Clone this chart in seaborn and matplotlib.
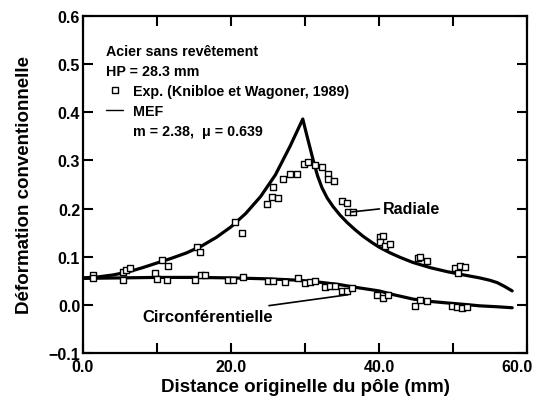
import numpy as np
import pandas as pd
import matplotlib
matplotlib.use("Agg")
import matplotlib.pyplot as plt
from matplotlib.lines import Line2D
from matplotlib.ticker import MultipleLocator
from matplotlib.transforms import ScaledTranslation
import seaborn as sb

# FEM curves (MEF)
rad_x = [0, 2, 4, 6, 8, 10, 12, 14, 16, 18, 20, 22, 24, 26, 28, 29.7, 30.2, 30.7, 31.2,
         31.7, 32.3, 33.0, 33.8, 34.7, 35.7, 36.7, 37.8, 39, 40, 41.5, 42.8, 44.6, 47, 49.2,
         51.5, 53.6, 55, 56, 57, 58]
rad_y = [0.056, 0.058, 0.062, 0.068, 0.077, 0.087, 0.097, 0.108, 0.122, 0.140, 0.162, 0.190,
         0.225, 0.270, 0.330, 0.386, 0.355, 0.325, 0.295, 0.268, 0.243, 0.222, 0.204, 0.187,
         0.171, 0.157, 0.143, 0.130, 0.120, 0.108, 0.099, 0.088, 0.077, 0.069, 0.062, 0.056,
         0.051, 0.046, 0.038, 0.029]
circ_x = [0, 5, 10, 15, 20, 25, 28, 30, 32, 34.7, 37, 40, 42, 44.6, 47, 49.2, 51.5, 53.6, 56, 58]
circ_y = [0.055, 0.056, 0.057, 0.057, 0.056, 0.054, 0.052, 0.050, 0.047, 0.042, 0.036, 0.029,
          0.021, 0.012, 0.007, 0.004, 0.001, -0.002, -0.004, -0.006]

# experiments (Knibloe et Wagoner, 1989)
exp_rad_x = [1.4, 5.4, 5.8, 6.3, 10.7, 11.5, 15.4, 15.8, 20.5, 21.5, 24.8, 25.5, 26.4, 25.7,
             27, 28, 28.9, 29.8, 30.4, 31.4, 32.3, 33.1, 33.1, 33.9, 35.0, 35.7, 35.8, 36.5,
             40.1, 40.5, 40.1, 40.8, 41.5, 45.3, 45.6, 46.5, 50.3, 51.0, 51.6, 50.7]
exp_rad_y = [0.062, 0.069, 0.072, 0.077, 0.094, 0.081, 0.120, 0.110, 0.173, 0.150, 0.210,
             0.225, 0.222, 0.245, 0.262, 0.272, 0.272, 0.293, 0.297, 0.291, 0.287, 0.272,
             0.262, 0.258, 0.216, 0.212, 0.193, 0.193, 0.141, 0.143, 0.131, 0.123, 0.127,
             0.098, 0.100, 0.092, 0.077, 0.081, 0.079, 0.067]
exp_circ_x = [1.4, 5.4, 9.7, 10, 11.3, 15.1, 16, 16.5, 19.6, 20.3, 21.6, 25, 25.7, 27.3, 29,
              30, 30.7, 31.4, 32.7, 33.4, 34.1, 35, 35.7, 36.4, 39.7, 40.5, 41.2, 44.9, 45.5,
              46.5, 49.9, 50.5, 51.2, 51.9]
exp_circ_y = [0.056, 0.052, 0.066, 0.054, 0.052, 0.052, 0.062, 0.062, 0.052, 0.052, 0.058,
              0.050, 0.050, 0.048, 0.056, 0.046, 0.048, 0.050, 0.037, 0.040, 0.040, 0.029,
              0.029, 0.035, 0.020, 0.015, 0.020, -0.002, 0.010, 0.008, -0.002, -0.004,
              -0.006, -0.004]

sb.set_style("ticks")
plt.rcParams['font.family'] = ['Liberation Sans', 'DejaVu Sans']
plt.rcParams['font.weight'] = 'bold'
for key in ['text.color', 'axes.labelcolor', 'xtick.color', 'ytick.color', 'axes.edgecolor']:
    plt.rcParams[key] = 'black'

fig = plt.figure(figsize=(5.37, 4.06), dpi=100)
ax = fig.add_axes([83 / 537, 1 - 354 / 406, 444 / 537, 337 / 406])

df_rad = pd.DataFrame({"x": rad_x, "y": rad_y})
df_circ = pd.DataFrame({"x": circ_x, "y": circ_y})
sb.lineplot(data=df_rad, x="x", y="y", ax=ax, color="black", lw=2.3)
sb.lineplot(data=df_circ, x="x", y="y", ax=ax, color="black", lw=2.3)

df_exp = pd.DataFrame({"x": exp_rad_x + exp_circ_x, "y": exp_rad_y + exp_circ_y})
sb.scatterplot(data=df_exp, x="x", y="y", ax=ax, marker="s", s=14,
               facecolor="white", edgecolor="black", linewidth=1, zorder=3)

ax.set_xlim(0, 60)
ax.set_ylim(-0.1, 0.6)
ax.set_xticks([0, 20, 40, 60])
ax.set_xticklabels(["0.0", "20.0", "40.0", "60.0"])
ax.xaxis.set_minor_locator(MultipleLocator(10))
ax.set_yticks(np.arange(-0.1, 0.61, 0.1))
ax.set_yticklabels(["\u22120.1", "0.0", "0.1", "0.2", "0.3", "0.4", "0.5", "0.6"])
ax.tick_params(which="both", direction="in", top=True, right=True, length=7, width=1.5,
               labelsize=11.5, colors="black")
ax.tick_params(axis="y", pad=2)
ax.tick_params(axis="x", pad=4)
for sp in ax.spines.values():
    sp.set_linewidth(1.6)
    sp.set_color("black")
# last x label sits on the figure edge; nudge it in a little
last = ax.get_xticklabels()[-1]
last.set_transform(last.get_transform() + ScaledTranslation(-7 / 72, 0, fig.dpi_scale_trans))

ax.set_xlabel("Distance originelle du pôle (mm)", fontsize=13.5, fontweight="bold", labelpad=3)
ax.set_ylabel("Déformation conventionnelle", fontsize=13.5, fontweight="bold", labelpad=11)

handles = [Line2D([], [], marker="s", ls="none", mfc="white", mec="black", ms=4.5, mew=1),
           Line2D([], [], color="black", lw=1),
           Line2D([], [], ls="none")]
labels = ["Exp. (Knibloe et Wagoner, 1989)", "MEF", "m = 2.38,  μ = 0.639"]
leg = ax.legend(handles, labels, title="Acier sans revêtement\nHP = 28.3 mm",
                alignment="left", loc="upper left", bbox_to_anchor=(0.052, 0.918),
                frameon=False, borderpad=0, borderaxespad=0, handlelength=1.2,
                handletextpad=0.7, labelspacing=0.42,
                prop={"weight": "bold", "size": 10.3},
                title_fontproperties={"weight": "bold", "size": 10.3})
leg.get_title().set_linespacing(1.55)

ax.annotate("Radiale", xy=(36.3, 0.193), xytext=(40.5, 0.2), va="center", ha="left",
            fontsize=11.5, fontweight="bold",
            arrowprops=dict(arrowstyle="-", color="black", lw=1.2, shrinkA=0, shrinkB=0,
                            relpos=(0, 0.5)))
ax.annotate("Circonférentielle", xy=(35.8, 0.021), xytext=(16.8, -0.024), va="center",
            ha="center", fontsize=12, fontweight="bold",
            arrowprops=dict(arrowstyle="-", color="black", lw=1.2, shrinkA=0, shrinkB=0,
                            relpos=(0.79, 1.0)))

fig.savefig("out.png", dpi=100)
